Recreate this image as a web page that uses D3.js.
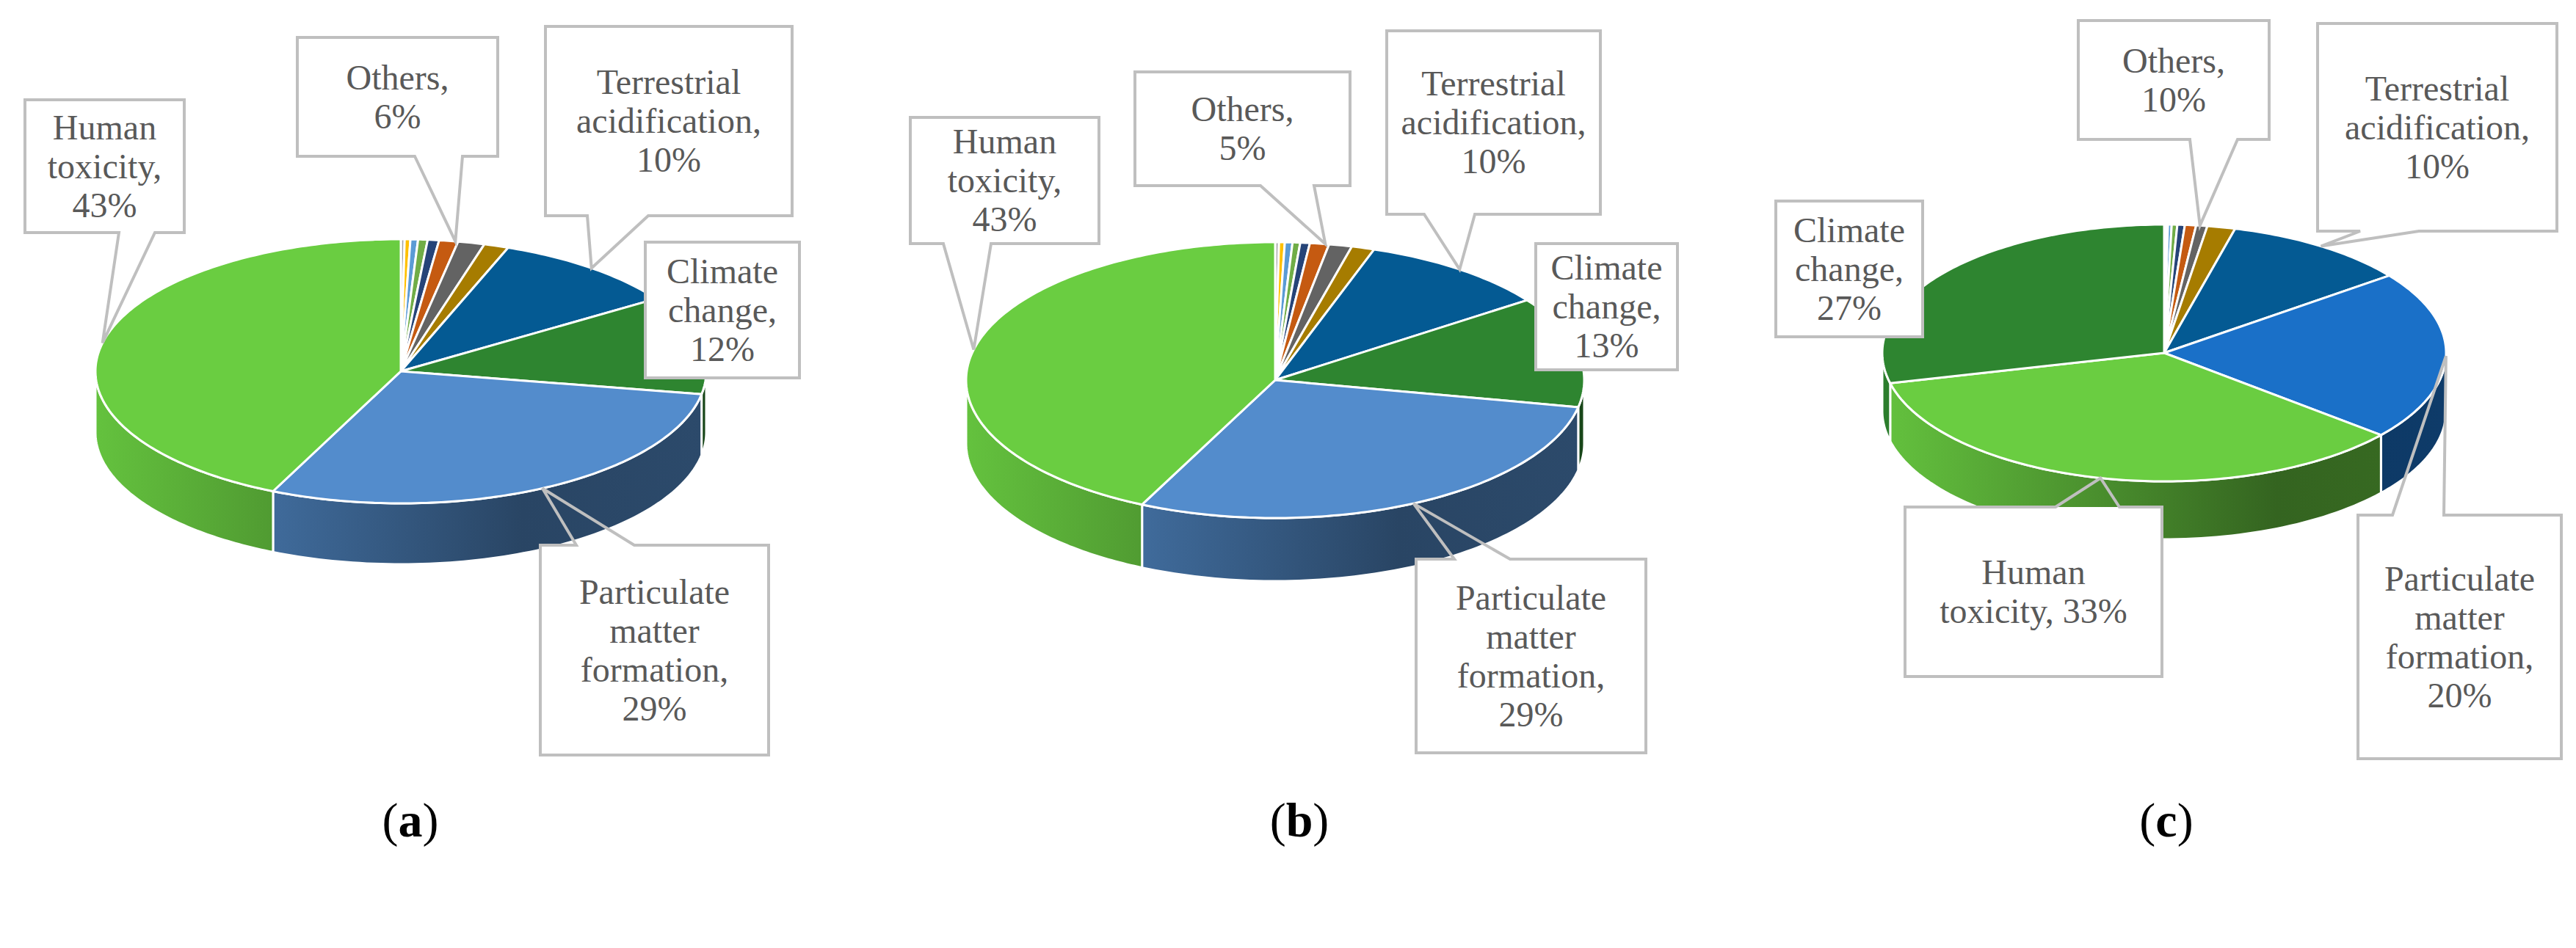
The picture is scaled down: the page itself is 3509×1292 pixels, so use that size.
<!DOCTYPE html>
<html><head><meta charset="utf-8">
<script src="https://cdn.jsdelivr.net/npm/d3@7"></script>
<style>body{margin:0;background:#fff} text{font-family:"Liberation Serif","DejaVu Serif",serif}</style>
</head><body>
<svg id="c" width="3509" height="1292"></svg>
<script>
// ---------- DATA ----------
const othersColors = ["#a5a5a5","#ffc000","#5b9bd5","#70ad47","#264478","#c55a11","#636363","#a67c00"];
const othersA = [0.2,0.3,0.4,0.5,0.6,1.0,1.4,1.3];
const othersB = [0.2,0.3,0.4,0.4,0.5,1.0,1.2,1.2];
const othersC = [0.1,0.1,0.2,0.3,0.4,0.6,0.6,1.5];
const mainCatsAB = ["Terrestrial acidification","Climate change","Particulate matter formation","Human toxicity"];
const mainCatsC  = ["Terrestrial acidification","Particulate matter formation","Human toxicity","Climate change"];
const valuesA = [10,12,29,43];
const valuesB = [10,13,29,43];
const valuesC = [10,20,33,27];
const colorsAB = ["#045a93","#2e8530","#538ccc","#6acd41"];
const colorsC  = ["#045a93","#1a70c8","#6acd41","#2e8530"];
const labelLinesA = {"Others":["Others,","6%"],"Terrestrial acidification":["Terrestrial","acidification,","10%"],"Climate change":["Climate","change,","12%"],"Particulate matter formation":["Particulate","matter","formation,","29%"],"Human toxicity":["Human","toxicity,","43%"]};
const labelLinesB = {"Others":["Others,","5%"],"Terrestrial acidification":["Terrestrial","acidification,","10%"],"Climate change":["Climate","change,","13%"],"Particulate matter formation":["Particulate","matter","formation,","29%"],"Human toxicity":["Human","toxicity,","43%"]};
const labelLinesC = {"Others":["Others,","10%"],"Terrestrial acidification":["Terrestrial","acidification,","10%"],"Climate change":["Climate","change,","27%"],"Particulate matter formation":["Particulate","matter","formation,","20%"],"Human toxicity":["Human","toxicity, 33%"]};
const panelLetters = ["a","b","c"];

// ---------- LAYOUT ----------
const pies = [
 {cx:546,cy:506,rx:416,ry:180,depth:83, others:othersA, cats:mainCatsAB, vals:valuesA, cols:colorsAB, lines:labelLinesA, letterX:559,
  boxes:{"Human toxicity":{x0:34,y0:136,x1:251,y1:317,edge:"bottom",n1:162,n2:211},
         "Others":{x0:405,y0:51,x1:678,y1:213,edge:"bottom",n1:565,n2:630},
         "Terrestrial acidification":{x0:743,y0:36,x1:1079,y1:294,edge:"bottom",n1:800,n2:883},
         "Climate change":{x0:879,y0:330,x1:1089,y1:515},
         "Particulate matter formation":{x0:736,y0:743,x1:1047,y1:1029,edge:"top",n1:785,n2:864}}},
 {cx:1737,cy:518,rx:421,ry:188,depth:86, others:othersB, cats:mainCatsAB, vals:valuesB, cols:colorsAB, lines:labelLinesB, letterX:1770,
  boxes:{"Human toxicity":{x0:1240,y0:160,x1:1497,y1:332,edge:"bottom",n1:1285,n2:1350},
         "Others":{x0:1546,y0:98,x1:1839,y1:253,edge:"bottom",n1:1717,n2:1790},
         "Terrestrial acidification":{x0:1889,y0:42,x1:2180,y1:292,edge:"bottom",n1:1940,n2:2009},
         "Climate change":{x0:2092,y0:332,x1:2285,y1:504},
         "Particulate matter formation":{x0:1929,y0:762,x1:2242,y1:1026,edge:"top",n1:1981,n2:2057}}},
 {cx:2948,cy:481,rx:384,ry:175,depth:79, others:othersC, cats:mainCatsC, vals:valuesC, cols:colorsC, lines:labelLinesC, letterX:2951,
  boxes:{"Others":{x0:2831,y0:28,x1:3091,y1:190,edge:"bottom",n1:2983,n2:3048},
         "Terrestrial acidification":{x0:3157,y0:32,x1:3483,y1:315,edge:"bottom",n1:3215,n2:3295},
         "Climate change":{x0:2419,y0:274,x1:2619,y1:459},
         "Human toxicity":{x0:2595,y0:691,x1:2945,y1:922,edge:"top",n1:2800,n2:2887},
         "Particulate matter formation":{x0:3212,y0:702,x1:3489,y1:1034,edge:"top",n1:3259,n2:3329}}}
];

const svg = d3.select("#c");
const defs = svg.append("defs");
const FONT = "Liberation Serif, DejaVu Serif, serif";

pies.forEach((P, pi) => {
  const items = [];
  P.others.forEach((v,i)=>items.push({name:"Others", v, c:othersColors[i]}));
  P.cats.forEach((n,i)=>items.push({name:n, v:P.vals[i], c:P.cols[i]}));
  const arcs = d3.pie().sort(null).value(d=>d.v)(items);
  const pt = (a, dz=0) => [P.cx + P.rx*Math.sin(a), P.cy - P.ry*Math.cos(a) + dz];
  const g = svg.append("g");

  arcs.forEach((a,i)=>{
    const s = Math.max(a.startAngle, Math.PI/2), e = Math.min(a.endAngle, 3*Math.PI/2);
    if (e <= s) return;
    const gid = `gr${pi}_${i}`;
    const base = d3.color(a.data.c);
    const lg = defs.append("linearGradient").attr("id",gid).attr("gradientUnits","userSpaceOnUse")
      .attr("x1",P.cx-P.rx).attr("x2",P.cx+P.rx).attr("y1",0).attr("y2",0);
    lg.append("stop").attr("offset",0).attr("stop-color",base.darker(0.15));
    lg.append("stop").attr("offset",0.7).attr("stop-color",base.darker(2.0));
    lg.append("stop").attr("offset",1).attr("stop-color",base.darker(1.8));
    const n=80, top=[], bot=[];
    for(let k=0;k<=n;k++){const t=s+(e-s)*k/n; top.push(pt(t)); bot.push(pt(t,P.depth));}
    const pts = top.concat(bot.reverse());
    g.append("path").attr("d","M"+pts.map(p=>p.join(",")).join("L")+"Z")
      .attr("fill",`url(#${gid})`).attr("stroke","#fff").attr("stroke-width",3).attr("stroke-linejoin","round");
  });
  arcs.forEach(a=>{
    const n=Math.max(4,Math.ceil((a.endAngle-a.startAngle)*60)), pts=[[P.cx,P.cy]];
    for(let k=0;k<=n;k++) pts.push(pt(a.startAngle+(a.endAngle-a.startAngle)*k/n));
    g.append("path").attr("d","M"+pts.map(p=>p.join(",")).join("L")+"Z")
      .attr("fill",a.data.c).attr("stroke","#fff").attr("stroke-width",3).attr("stroke-linejoin","round");
  });

  const groups = {};
  arcs.forEach(a=>{const k=a.data.name; if(!groups[k]) groups[k]={s:a.startAngle,e:a.endAngle}; else groups[k].e=a.endAngle;});
  Object.entries(P.boxes).forEach(([name,b])=>{
    const gr = groups[name], mid=(gr.s+gr.e)/2, tip=pt(mid);
    const lg = svg.append("g");
    lg.append("rect").attr("x",b.x0).attr("y",b.y0).attr("width",b.x1-b.x0).attr("height",b.y1-b.y0).attr("fill","#fff");
    let d;
    if(!b.edge) d=`M${b.x0},${b.y0}H${b.x1}V${b.y1}H${b.x0}Z`;
    else if(b.edge==="bottom") d=`M${b.n1},${b.y1}L${tip[0]},${tip[1]}L${b.n2},${b.y1}H${b.x1}V${b.y0}H${b.x0}V${b.y1}Z`;
    else d=`M${b.n1},${b.y0}L${tip[0]},${tip[1]}L${b.n2},${b.y0}H${b.x1}V${b.y1}H${b.x0}V${b.y0}Z`;
    lg.append("path").attr("d",d).attr("fill","none").attr("stroke","#bfbfbf").attr("stroke-width",4).attr("stroke-linejoin","miter");
    const lines=P.lines[name], cyb=(b.y0+b.y1)/2, step=53;
    lines.forEach((t,i)=>{
      lg.append("text").attr("x",(b.x0+b.x1)/2).attr("y",cyb+(i-(lines.length-1)/2)*step+16)
        .attr("text-anchor","middle").style("font-family",FONT).attr("font-size",48).attr("fill","#595959").text(t);
    });
  });

  const t = svg.append("text").attr("x",P.letterX).attr("y",1140).attr("text-anchor","middle")
    .style("font-family",FONT).attr("font-size",66).attr("fill","#000");
  t.append("tspan").text("(");
  t.append("tspan").attr("font-weight","bold").text(panelLetters[pi]);
  t.append("tspan").text(")");
});
</script>
</body></html>
